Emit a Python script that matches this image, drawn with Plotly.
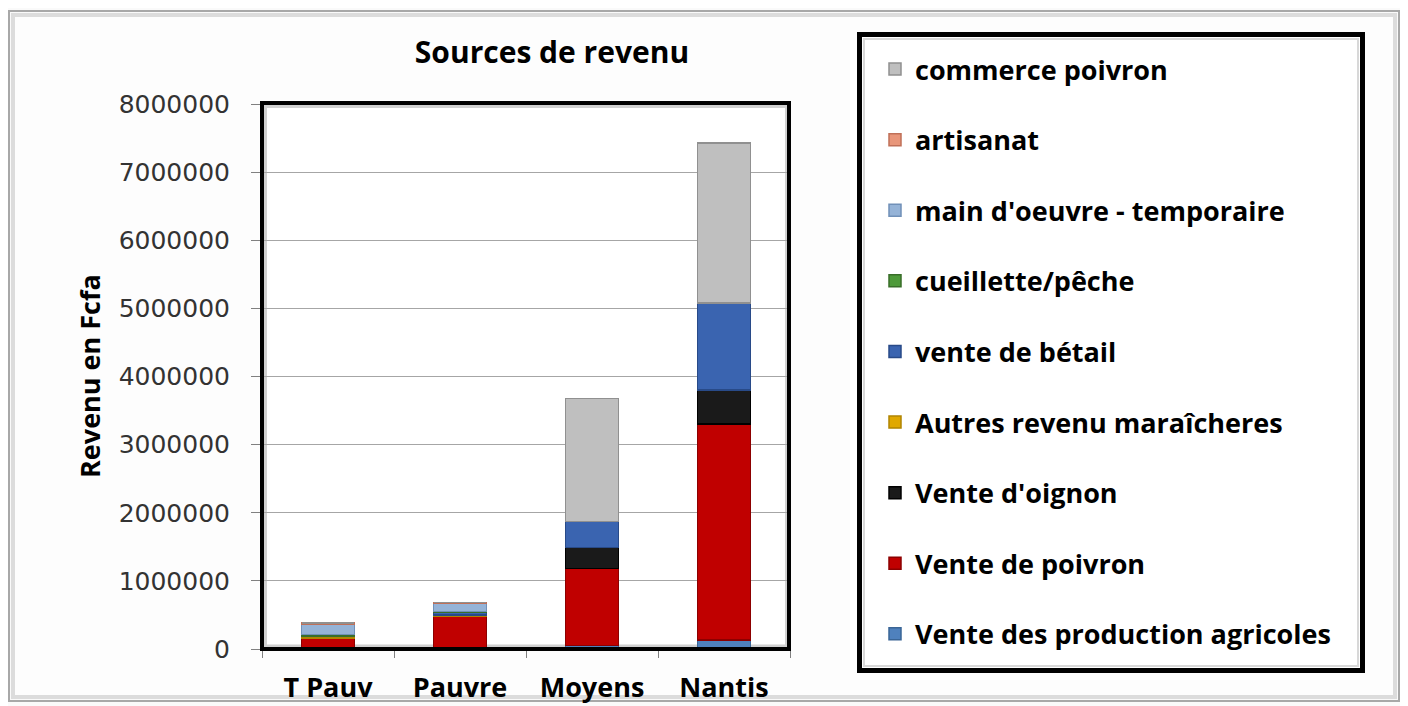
import plotly.graph_objects as go

categories = ["T Pauv", "Pauvre", "Moyens", "Nantis"]

agricoles = [0, 5000, 50000, 130000]
poivron = [165000, 480000, 1130000, 3170000]
oignon = [0, 0, 310000, 500000]
autres_mar = [20000, 15000, 0, 0]
betail = [5000, 40000, 380000, 1280000]
cueillette = [25000, 10000, 0, 0]
main_oeuvre = [155000, 120000, 0, 0]
artisanat = [10000, 10000, 0, 0]
commerce = [0, 0, 1810000, 2350000]

series_names = [
    "Vente des production agricoles",
    "Vente de poivron",
    "Vente d'oignon",
    "Autres revenu maraîcheres",
    "vente de bétail",
    "cueillette/pêche",
    "main d'oeuvre - temporaire",
    "artisanat",
    "commerce poivron",
]
series_values = [agricoles, poivron, oignon, autres_mar, betail, cueillette,
                 main_oeuvre, artisanat, commerce]
colors = ["#4f81bd", "#c00000", "#1a1a1a", "#e0a800", "#3a64b0", "#4e9a3a",
          "#95b3d7", "#e8967a", "#bfbfbf"]
edge_colors = ["#3a6596", "#8c0000", "#000000", "#b08400", "#284a88", "#386e29",
               "#7090b8", "#c07058", "#909090"]

y_ticks = [0, 1000000, 2000000, 3000000, 4000000, 5000000, 6000000, 7000000, 8000000]

# screenshot coordinates (page body has an 8px offset)
OFF = 8
W, H = 1408 - OFF, 706 - OFF
L, R, T, B = 262, 790, 104, 649

def px(x):
    return (x - L) / (R - L)

def py(y):
    return (B - y) / (B - T)

fig = go.Figure()
for i, (name, vals) in enumerate(zip(series_names, series_values)):
    fig.add_trace(go.Bar(
        x=categories, y=vals, name=name,
        marker=dict(color=colors[i], line=dict(color=edge_colors[i], width=1.5)),
        legendgroup=f"g{i}", legendrank=100 - i,
        width=0.4,
    ))

shapes = []
# outer frame
shapes.append(dict(type="rect", xref="paper", yref="paper",
                   x0=px(9), x1=px(1399), y0=py(701), y1=py(11),
                   line=dict(color="#a8a8a8", width=2), fillcolor="rgba(0,0,0,0)", layer="below"))
shapes.append(dict(type="rect", xref="paper", yref="paper",
                   x0=px(13), x1=px(1395), y0=py(697), y1=py(15),
                   line=dict(color="#dcdcdc", width=4), fillcolor="#fdfdfd", layer="below"))
# plot area inner bevel (below bars) and black border
shapes.append(dict(type="rect", xref="paper", yref="paper",
                   x0=px(265.5), x1=px(786.5), y0=py(646), y1=py(106.5),
                   line=dict(color="#d0d0d0", width=3), fillcolor="#ffffff", layer="below"))
shapes.append(dict(type="rect", xref="paper", yref="paper",
                   x0=px(262), x1=px(789), y0=py(649), y1=py(103),
                   line=dict(color="#000000", width=4), layer="above"))
# legend box
shapes.append(dict(type="rect", xref="paper", yref="paper",
                   x0=px(859.5), x1=px(1362.5), y0=py(670.5), y1=py(34.5),
                   line=dict(color="#000000", width=5), fillcolor="#ffffff", layer="below"))
shapes.append(dict(type="rect", xref="paper", yref="paper",
                   x0=px(864), x1=px(1358), y0=py(666), y1=py(39),
                   line=dict(color="#d8d8d8", width=2), fillcolor="rgba(0,0,0,0)", layer="below"))

fig.update_layout(
    width=W, height=H,
    margin=dict(l=L - OFF, r=1408 - R, t=T - OFF, b=706 - B, autoexpand=False),
    paper_bgcolor="#fafafa",
    plot_bgcolor="rgba(0,0,0,0)",
    barmode="stack",
    shapes=shapes,
    title=dict(text="Sources de revenu", x=px(552), xref="paper", xanchor="center",
               y=1 - (52 - OFF) / H, yanchor="middle",
               font=dict(family="Open Sans", size=30, color="#000000", weight="bold")),
    xaxis=dict(
        showgrid=False, ticks="outside", tickson="boundaries", ticklen=8,
        tickcolor="#808080", showline=False, ticklabelstandoff=20,
        tickfont=dict(family="Open Sans", size=27, color="#000000", weight="bold"),
    ),
    yaxis=dict(
        range=[0, 8000000], tickvals=y_ticks, ticktext=[str(v) for v in y_ticks],
        showgrid=True, gridcolor="#a6a6a6", gridwidth=1,
        ticks="outside", ticklen=10, tickcolor="#808080",
        ticklabelstandoff=16,
        tickfont=dict(family="DejaVu Sans", size=25, color="#333333"),
        zeroline=False, showline=False,
    ),
    legend=dict(
        x=px(875), xanchor="left", y=py(45), yanchor="top",
        tracegroupgap=32.5, maxheight=690,
        bgcolor="rgba(0,0,0,0)", borderwidth=0,
        font=dict(family="Open Sans", size=27, color="#000000", weight="bold"),
    ),
    annotations=[dict(
        text="Revenu en Fcfa", xref="paper", yref="paper",
        x=px(89), y=py(376), xanchor="center", yanchor="middle",
        textangle=-90, showarrow=False,
        font=dict(family="Open Sans", size=27, color="#000000", weight="bold"),
    )],
)

fig.write_html("out.html")
